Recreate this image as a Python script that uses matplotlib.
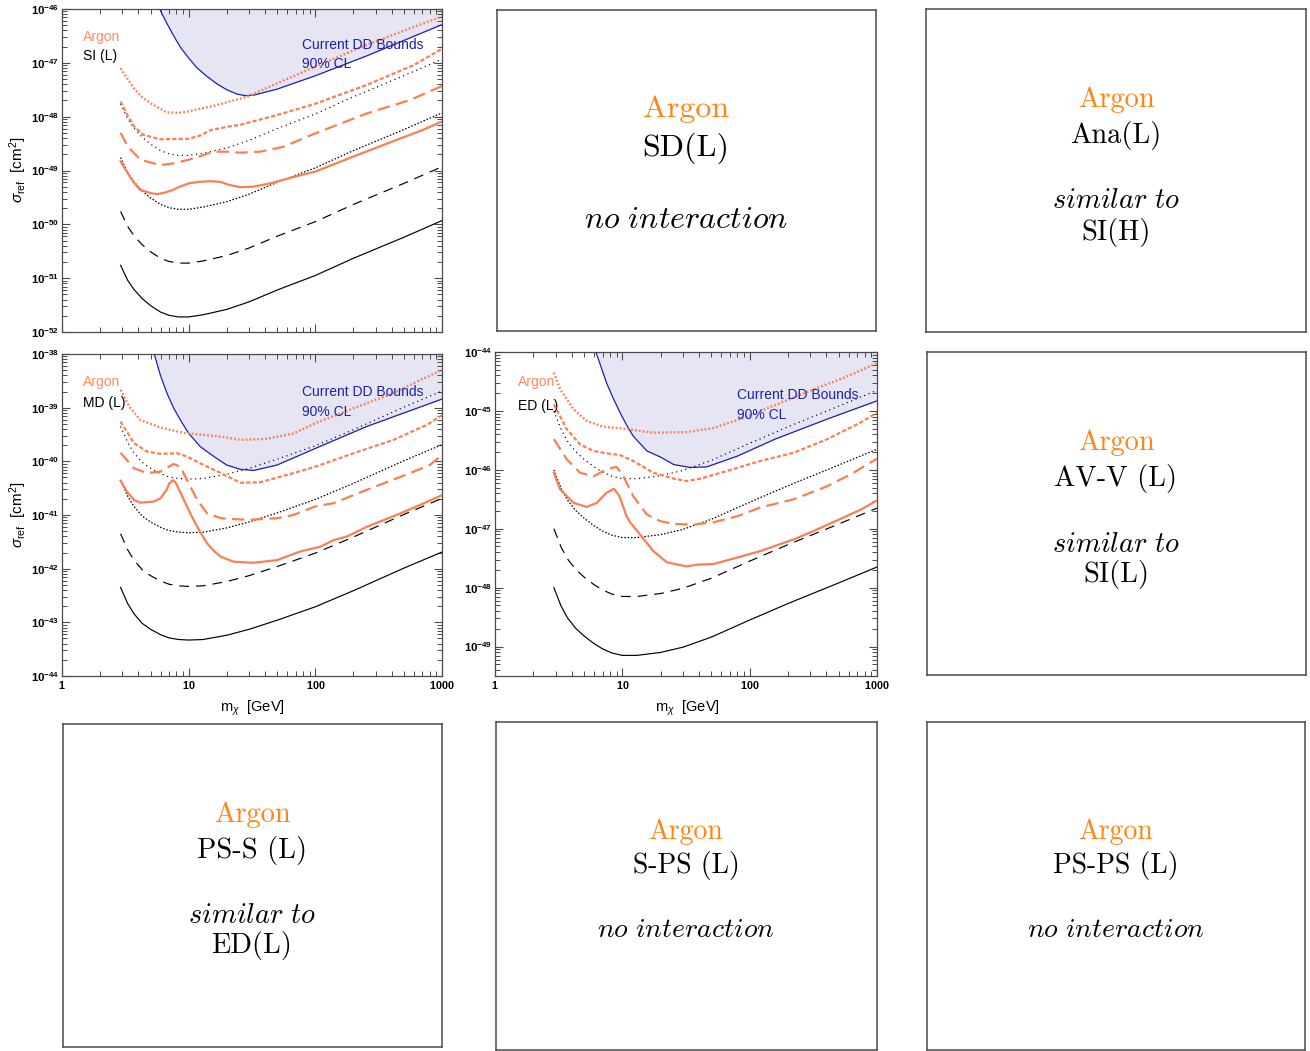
import numpy as np
import matplotlib
matplotlib.use("Agg")
import matplotlib.pyplot as plt
from matplotlib.ticker import LogLocator, FuncFormatter, FixedLocator, NullFormatter

plt.rcParams['font.family'] = ['Liberation Sans', 'DejaVu Sans']
plt.rcParams['mathtext.fontset'] = 'custom'
plt.rcParams['mathtext.rm'] = 'Liberation Sans'
plt.rcParams['mathtext.it'] = 'Liberation Sans:italic'
plt.rcParams['mathtext.bf'] = 'Liberation Sans:bold'
plt.rcParams['lines.scale_dashes'] = False

# ---------------- data (log10 of sigma_ref [cm^2]) ----------------
m_bk = [2.9, 3.3, 3.7, 4.3, 5.0, 6.0, 7.0, 8.3, 10, 13, 20, 30, 50, 100, 200, 500, 1000]

# SI (L)
si_bk_solid = [-50.76, -51.04, -51.21, -51.38, -51.51, -51.63, -51.69, -51.72, -51.72, -51.68, -51.58, -51.44, -51.22, -50.95, -50.63, -50.24, -49.93]
si_bk_dash = [-49.76, -50.04, -50.21, -50.38, -50.51, -50.63, -50.69, -50.72, -50.72, -50.68, -50.58, -50.44, -50.22, -49.95, -49.63, -49.24, -48.93]
si_bk_ddot = [-48.76, -49.04, -49.21, -49.38, -49.51, -49.63, -49.69, -49.72, -49.72, -49.68, -49.58, -49.44, -49.22, -48.95, -48.63, -48.24, -47.93]
si_bk_sdot = [-47.76, -48.04, -48.21, -48.38, -48.51, -48.63, -48.69, -48.72, -48.72, -48.68, -48.58, -48.44, -48.22, -47.95, -47.63, -47.24, -46.93]

si_o_solid_m = [2.9, 3.3, 3.7, 4.15, 5.0, 5.6, 6.5, 7.5, 8.5, 10, 12, 14.8, 17.8, 21, 25.6, 32.5, 44, 70, 100, 200, 440, 700, 1000]
si_o_solid = [-48.83, -49.05, -49.23, -49.36, -49.42, -49.44, -49.41, -49.36, -49.30, -49.24, -49.21, -49.20, -49.21, -49.27, -49.31, -49.30, -49.24, -49.11, -49.02, -48.74, -48.43, -48.25, -48.09]
si_o_ldash_m = [2.9, 3.3, 4.15, 6.0, 7.5, 10, 12.5, 15.7, 20, 25.6, 36.7, 56, 100, 255, 560, 1000]
si_o_ldash = [-48.30, -48.55, -48.80, -48.90, -48.87, -48.80, -48.73, -48.65, -48.65, -48.67, -48.65, -48.56, -48.31, -47.94, -47.69, -47.43]
si_o_sdash_m = [2.9, 3.3, 3.7, 4.4, 6.0, 10, 12.4, 14.8, 20, 25.6, 50, 100, 255, 600, 1000]
si_o_sdash = [-47.72, -47.98, -48.18, -48.34, -48.42, -48.41, -48.35, -48.25, -48.19, -48.15, -47.97, -47.76, -47.41, -47.04, -46.74]
si_o_dot_m = [2.9, 3.3, 3.68, 4.3, 5.0, 6.7, 8.3, 10, 15.7, 29, 50, 100, 240, 530, 1000]
si_o_dot = [-47.10, -47.30, -47.47, -47.64, -47.75, -47.92, -47.93, -47.90, -47.80, -47.63, -47.38, -47.07, -46.69, -46.38, -46.14]
si_dd_m = [5.9, 6.35, 6.74, 7.62, 8.6, 10, 11.6, 13.9, 16.7, 20, 24, 28, 32.6, 49.7, 100, 255, 1000]
si_dd = [-46.0, -46.15, -46.27, -46.50, -46.71, -46.91, -47.09, -47.25, -47.39, -47.50, -47.58, -47.61, -47.60, -47.49, -47.24, -46.87, -46.29]

# MD (L)
md_bk_solid = [-42.35, -42.65, -42.84, -43.02, -43.13, -43.23, -43.29, -43.32, -43.33, -43.32, -43.24, -43.13, -42.96, -42.71, -42.41, -41.99, -41.69]
md_bk_dash = [-41.35, -41.65, -41.84, -42.02, -42.13, -42.23, -42.29, -42.32, -42.33, -42.32, -42.24, -42.13, -41.96, -41.71, -41.41, -40.99, -40.69]
md_bk_ddot = [-40.35, -40.65, -40.84, -41.02, -41.13, -41.23, -41.29, -41.32, -41.33, -41.32, -41.24, -41.13, -40.96, -40.71, -40.41, -39.99, -39.69]
md_bk_sdot = [-39.35, -39.65, -39.84, -40.02, -40.13, -40.23, -40.29, -40.32, -40.33, -40.32, -40.24, -40.13, -39.96, -39.71, -39.41, -38.99, -38.69]

md_o_solid_m = [2.9, 3.26, 3.7, 4.15, 5.3, 6.0, 6.7, 7.0, 7.5, 7.9, 8.3, 9.0, 9.7, 10.6, 11.7, 12.8, 14, 16, 18, 22.7, 32.5, 50, 76, 110, 139, 178, 255, 470, 720, 1000]
md_o_solid = [-40.36, -40.57, -40.72, -40.77, -40.75, -40.69, -40.53, -40.42, -40.35, -40.40, -40.50, -40.68, -40.84, -41.03, -41.22, -41.38, -41.53, -41.68, -41.78, -41.87, -41.89, -41.84, -41.68, -41.59, -41.47, -41.40, -41.22, -40.97, -40.78, -40.63]
md_o_ldash_m = [2.9, 3.7, 4.7, 6.0, 7.6, 8.6, 9.7, 11.7, 14, 18, 29, 50, 67, 100, 139, 255, 470, 800, 1000]
md_o_ldash = [-39.84, -40.13, -40.22, -40.19, -40.05, -40.10, -40.35, -40.72, -40.97, -41.06, -41.09, -41.06, -41.00, -40.84, -40.78, -40.53, -40.29, -40.07, -39.88]
md_o_sdash_m = [2.9, 3.7, 4.7, 6.0, 8.1, 9.7, 12.4, 18, 25.6, 36.7, 67, 100, 200, 415, 760, 1000]
md_o_sdash = [-39.26, -39.66, -39.82, -39.86, -39.85, -39.91, -40.04, -40.22, -40.40, -40.39, -40.22, -40.10, -39.85, -39.60, -39.32, -39.14]
md_o_dot_m = [2.9, 3.4, 4.15, 6.0, 9.1, 12.4, 18, 25.6, 41.6, 67, 100, 200, 415, 680, 1000]
md_o_dot = [-38.67, -38.98, -39.23, -39.37, -39.47, -39.50, -39.54, -39.60, -39.58, -39.48, -39.29, -39.01, -38.73, -38.48, -38.30]
md_dd_m = [5.35, 5.97, 6.74, 7.62, 8.6, 10, 12.4, 15.8, 20, 25.6, 32.6, 49.7, 100, 255, 1000]
md_dd = [-38.0, -38.39, -38.73, -39.01, -39.23, -39.48, -39.73, -39.91, -40.07, -40.15, -40.17, -40.07, -39.76, -39.35, -38.84]

# ED (L)
ed_bk_solid = [-48.00, -48.31, -48.51, -48.69, -48.82, -48.95, -49.04, -49.11, -49.15, -49.15, -49.10, -49.01, -48.84, -48.55, -48.27, -47.92, -47.65]
ed_bk_dash = [-47.00, -47.31, -47.51, -47.69, -47.82, -47.95, -48.04, -48.11, -48.15, -48.15, -48.10, -48.01, -47.84, -47.55, -47.27, -46.92, -46.65]
ed_bk_ddot = [-46.00, -46.31, -46.51, -46.69, -46.82, -46.95, -47.04, -47.11, -47.15, -47.15, -47.10, -47.01, -46.84, -46.55, -46.27, -45.92, -45.65]
ed_bk_sdot = [-45.00, -45.31, -45.51, -45.69, -45.82, -45.95, -46.04, -46.11, -46.15, -46.15, -46.10, -46.01, -45.84, -45.55, -45.27, -44.92, -44.65]

ed_o_solid_m = [2.9, 3.24, 4.13, 5.26, 6.3, 7.5, 8.6, 9.5, 10.8, 11.5, 13.8, 17.5, 22.4, 32, 38.5, 52, 79.5, 121, 222, 317, 545, 740, 1000]
ed_o_solid = [-46.05, -46.33, -46.56, -46.63, -46.56, -46.39, -46.32, -46.45, -46.79, -46.89, -47.10, -47.38, -47.57, -47.64, -47.61, -47.60, -47.49, -47.38, -47.18, -47.04, -46.81, -46.68, -46.52]
ed_o_ldash_m = [2.9, 3.66, 4.66, 5.94, 7.5, 9.0, 10.2, 12.2, 15.6, 19.8, 25.3, 36.2, 52, 79.5, 121, 222, 405, 655, 1000]
ed_o_ldash = [-45.48, -45.82, -46.05, -46.11, -45.99, -45.95, -46.11, -46.45, -46.76, -46.87, -46.92, -46.93, -46.89, -46.79, -46.64, -46.50, -46.28, -46.05, -45.81]
ed_o_sdash_m = [2.9, 3.66, 4.66, 5.94, 7.5, 9.6, 12.2, 17.5, 25.3, 32, 41, 66, 121, 222, 405, 740, 1000]
ed_o_sdash = [-44.89, -45.31, -45.57, -45.68, -45.72, -45.75, -45.85, -46.05, -46.15, -46.19, -46.15, -46.02, -45.85, -45.71, -45.48, -45.20, -45.03]
ed_o_dot_m = [2.9, 3.24, 4.13, 5.26, 7.1, 10.2, 17.5, 32, 52, 89, 163, 298, 545, 1000]
ed_o_dot = [-44.35, -44.63, -44.97, -45.17, -45.27, -45.30, -45.37, -45.36, -45.29, -45.12, -44.89, -44.66, -44.44, -44.19]
ed_dd_m = [6.2, 6.7, 7.5, 8.5, 9.6, 10.8, 12.2, 15.6, 19.8, 25.3, 34, 46, 79.5, 158, 405, 1000]
ed_dd = [-44.0, -44.21, -44.52, -44.79, -45.03, -45.24, -45.43, -45.68, -45.78, -45.91, -45.96, -45.95, -45.77, -45.48, -45.14, -44.83]

# text-only panels
box_texts = [
    ("SD(L)", None, "no interaction"),
    ("Ana(L)", "SI(H)", "similar to"),
    ("AV-V (L)", "SI(L)", "similar to"),
    ("PS-S (L)", "ED(L)", "similar to"),
    ("S-PS (L)", None, "no interaction"),
    ("PS-PS (L)", None, "no interaction"),
]

# ---------------- styling ----------------
W, H = 1310, 1051
fig = plt.figure(figsize=(W / 100, H / 100), dpi=100)

ORANGE = '#FA7F52'
ORANGE_TXT = '#FF8C5E'
BOX_ORANGE = '#FF8514'
BLUE = '#1E1EB4'
FILL = '#E5E5F4'
SPINE = '#4a4a4a'


def px_axes(x0, y0, x1, y1):
    return fig.add_axes([x0 / W, 1 - y1 / H, (x1 - x0) / W, (y1 - y0) / H])


def L(v):
    return 10 ** np.asarray(v, dtype=float)


def plot_panel(ax, ylo, yhi, bk, oranges, dd_m, dd, label, show_xlabels, txt):
    ax.set_xscale('log')
    ax.set_yscale('log')
    ax.set_xlim(1, 1000)
    ax.set_ylim(10.0 ** ylo, 10.0 ** yhi)
    # DD bound region
    ax.fill_between(dd_m, L(dd), 10.0 ** (yhi + 1), color=FILL, lw=0, zorder=0)
    ax.plot(dd_m, L(dd), color=BLUE, lw=0.9, zorder=2)
    solid, dash, ddot, sdot = bk
    ax.plot(m_bk, L(solid), color='k', lw=0.85, zorder=3)
    ax.plot(m_bk, L(dash), color='k', lw=0.85, dashes=(7.0, 5.0), zorder=3)
    ax.plot(m_bk, L(ddot), color='k', lw=0.9, dashes=(1.1, 1.3), zorder=3)
    ax.plot(m_bk, L(sdot), color='k', lw=0.9, dashes=(0.8, 2.6), zorder=3)
    (ms, s), (ml, l), (mq, q), (md, d) = oranges
    ax.plot(ms, L(s), color=ORANGE, lw=1.6, zorder=4)
    ax.plot(ml, L(l), color=ORANGE, lw=1.6, dashes=(9.0, 4.5), zorder=4)
    ax.plot(mq, L(q), color=ORANGE, lw=1.6, dashes=(3.0, 1.6), zorder=4)
    ax.plot(md, L(d), color=ORANGE, lw=1.7, dashes=(1.3, 1.5), zorder=4)

    ax.xaxis.set_major_locator(FixedLocator([1, 10, 100, 1000]))
    ax.xaxis.set_minor_locator(LogLocator(base=10, subs=np.arange(2, 10), numticks=20))
    ax.xaxis.set_minor_formatter(NullFormatter())
    ax.xaxis.set_major_formatter(FuncFormatter(lambda v, p: r'$\mathbf{%d}$' % int(round(v))))
    ax.yaxis.set_major_locator(FixedLocator([10.0 ** k for k in range(int(np.ceil(ylo)), int(yhi) + 1)]))
    ax.yaxis.set_minor_locator(LogLocator(base=10, subs=np.arange(2, 10), numticks=40))
    ax.yaxis.set_minor_formatter(NullFormatter())
    ax.yaxis.set_major_formatter(FuncFormatter(lambda v, p: r'$\mathbf{10^{%d}}$' % int(round(np.log10(v)))))
    ax.tick_params(which='both', direction='in', top=True, right=True, color=SPINE, pad=2)
    ax.tick_params(axis='y', labelsize=8.2)
    ax.tick_params(axis='x', labelsize=7.8)
    ax.tick_params(which='major', length=6, width=0.8)
    ax.tick_params(which='minor', length=3.5, width=0.7)
    ax.tick_params(axis='x', labelbottom=show_xlabels)
    for sp in ax.spines.values():
        sp.set_color(SPINE)
        sp.set_linewidth(0.9)

    (ax_, ay_a, ay_l, dx_, dy_c, dy_9) = txt
    ax.text(ax_, ay_a, 'Argon', color=ORANGE_TXT, fontsize=10, transform=ax.transAxes, va='center', ha='left')
    ax.text(ax_, ay_l, label, color='k', fontsize=10, transform=ax.transAxes, va='center', ha='left')
    ax.text(dx_, dy_c, 'Current DD Bounds', color=BLUE, fontsize=10, transform=ax.transAxes, va='center', ha='left', zorder=6)
    ax.text(dx_, dy_9, '90% CL', color=BLUE, fontsize=10, transform=ax.transAxes, va='center', ha='left', zorder=6)


# top-left SI
ax1 = px_axes(62, 9, 442, 332)
plot_panel(ax1, -52, -46, (si_bk_solid, si_bk_dash, si_bk_ddot, si_bk_sdot),
           [(si_o_solid_m, si_o_solid), (si_o_ldash_m, si_o_ldash), (si_o_sdash_m, si_o_sdash), (si_o_dot_m, si_o_dot)],
           si_dd_m, si_dd, 'SI (L)', False, (0.055, 0.913, 0.854, 0.632, 0.889, 0.830))

# mid-left MD
ax2 = px_axes(62, 354, 442, 676)
plot_panel(ax2, -44, -38, (md_bk_solid, md_bk_dash, md_bk_ddot, md_bk_sdot),
           [(md_o_solid_m, md_o_solid), (md_o_ldash_m, md_o_ldash), (md_o_sdash_m, md_o_sdash), (md_o_dot_m, md_o_dot)],
           md_dd_m, md_dd, 'MD (L)', True, (0.055, 0.913, 0.848, 0.632, 0.882, 0.820))

# mid-center ED
ax3 = px_axes(495, 352, 877, 676)
plot_panel(ax3, -49.5, -44, (ed_bk_solid, ed_bk_dash, ed_bk_ddot, ed_bk_sdot),
           [(ed_o_solid_m, ed_o_solid), (ed_o_ldash_m, ed_o_ldash), (ed_o_sdash_m, ed_o_sdash), (ed_o_dot_m, ed_o_dot)],
           ed_dd_m, ed_dd, 'ED (L)', True, (0.060, 0.907, 0.833, 0.634, 0.867, 0.806))

# axis labels
fig.text(18 / W, 1 - 170 / H, r'$\sigma_{\mathrm{ref}}$  [cm$^2$]', rotation=90, ha='center', va='center', fontsize=11)
fig.text(18 / W, 1 - 515 / H, r'$\sigma_{\mathrm{ref}}$  [cm$^2$]', rotation=90, ha='center', va='center', fontsize=11)
fig.text(252 / W, 1 - 708 / H, r'm$_\chi$  [GeV]', ha='center', va='center', fontsize=10.5)
fig.text(687 / W, 1 - 708 / H, r'm$_\chi$  [GeV]', ha='center', va='center', fontsize=10.5)

# ---------------- text boxes ----------------
box_rects = [(497, 10, 876, 331), (926, 9, 1306, 332), (927, 352, 1306, 675),
             (63, 724, 442, 1047), (496, 722, 877, 1050), (927, 722, 1305, 1050)]
# (center x, baselines: Argon, model, italic line, second model line), font size
box_layout = [
    (686, 117, 156, 228, None, 23),
    (1116, 107, 143, 208, 240, 20.5),
    (1116, 450, 486, 552, 582, 20.5),
    (252, 822, 858, 923, 953, 20.5),
    (686, 839, 873, 937, None, 20),
    (1116, 839, 873, 937, None, 20),
]

for (x0, y0, x1, y1), (model, ref, phrase), (cx, bA, bM, bI, bR, fs) in zip(box_rects, box_texts, box_layout):
    bx = px_axes(x0, y0, x1, y1)
    bx.set_xticks([])
    bx.set_yticks([])
    for sp in bx.spines.values():
        sp.set_color(SPINE)
        sp.set_linewidth(1.1)
    fig.text(cx / W, 1 - bA / H, 'Argon', color=BOX_ORANGE, fontsize=fs, family='cmr10', ha='center', va='baseline')
    fig.text(cx / W, 1 - bM / H, model, color='k', fontsize=fs, family='cmr10', ha='center', va='baseline')
    it = r'$\mathit{' + phrase.replace(' ', r'\ ') + '}$'
    fig.text(cx / W, 1 - bI / H, it, color='k', fontsize=fs, math_fontfamily='cm', ha='center', va='baseline')
    if ref is not None:
        fig.text(cx / W, 1 - bR / H, ref, color='k', fontsize=fs, family='cmr10', ha='center', va='baseline')

fig.savefig('out.png', dpi=100)
